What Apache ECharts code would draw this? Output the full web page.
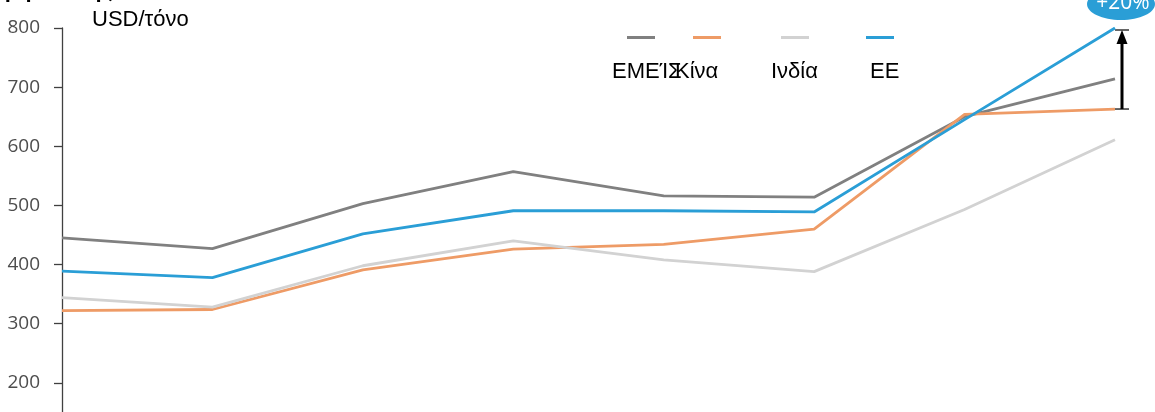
<!DOCTYPE html>
<html>
<head>
<meta charset="utf-8">
<script src="https://cdn.jsdelivr.net/npm/echarts@6/dist/echarts.min.js"></script>
<style>
html,body{margin:0;padding:0;background:#fff;}
#c{width:1155px;height:412px;}
</style>
</head>
<body>
<div id="c"></div>
<script>
// ---- data ----
var categories = ['2014', '2015', '2016', '2017', '2018', '2019', '2020', '2021'];
var seriesNames = ['ΕΜΕΊΣ', 'Κίνα', 'Ινδία', 'ΕΕ'];
var usValues    = [445, 427, 503, 557, 516, 514, 650, 714];
var chinaValues = [322, 324, 391, 426, 434, 460, 654, 663];
var indiaValues = [344, 328, 398, 440, 408, 388, 493, 611];
var euValues    = [389, 378, 452, 491, 491, 489, 645, 800];
var yTicks = [100, 200, 300, 400, 500, 600, 700, 800];
var titleText = 'Τιμή έλασης';
var unitText = 'USD/τόνο';
var changeLabel = '+20%';

var colors = ['#808080', '#ee9b66', '#d2d2d2', '#2a9ed6'];
var valuesList = [usValues, chinaValues, indiaValues, euValues];

var chart = echarts.init(document.getElementById('c'));

var legendLefts = [627, 693, 781, 866];
var legends = seriesNames.map(function (n, i) {
  return {
    data: [n], left: legendLefts[i], top: 36,
    icon: 'rect', itemWidth: 28, itemHeight: 3,
    formatter: function () { return ''; },
    textStyle: { fontSize: 12, padding: 0 },
    selectedMode: false, padding: 0, itemGap: 0
  };
});

var series = seriesNames.map(function (n, i) {
  return {
    name: n, type: 'line', data: valuesList[i],
    symbol: 'none', smooth: false,
    lineStyle: { color: colors[i], width: 2.8 },
    itemStyle: { color: colors[i] },
    z: i === 3 ? 5 : 3
  };
});

chart.setOption({
  animation: false,
  backgroundColor: '#fff',
  grid: { left: 62, top: 28, width: 1053, height: 414, outerBoundsMode: 'none', containLabel: false },
  legend: legends,
  xAxis: {
    type: 'category', data: categories, boundaryGap: false,
    axisLine: { lineStyle: { color: '#444' } },
    axisTick: { show: false },
    axisLabel: { show: false }
  },
  yAxis: {
    type: 'value', min: yTicks[0], max: yTicks[yTicks.length - 1], interval: 100,
    splitLine: { show: false },
    axisLine: { show: true, lineStyle: { color: '#404040', width: 1.3 } },
    axisTick: { show: true, length: 8, lineStyle: { color: '#404040', width: 1.3 } },
    axisLabel: { color: '#4d4d4d', fontSize: 19, fontFamily: 'Open Sans', margin: 22 }
  },
  series: series
});

// annotation positioned from data
var last = categories.length - 1;
var pTop = chart.convertToPixel({ gridIndex: 0 }, [last, euValues[last]]);
var pBot = chart.convertToPixel({ gridIndex: 0 }, [last, chinaValues[last]]);
var ax = pTop[0] + 7;
var legendTextLefts = [612, 675, 771, 870];
var graphics = [
  { type: 'text', style: { x: 113, y: 2, text: titleText, textAlign: 'right', textVerticalAlign: 'bottom', font: 'bold 22px "Liberation Sans", Arial', fill: '#000' } },
  { type: 'text', style: { x: 92, y: 9, text: unitText, font: '22px "Liberation Sans", Arial', fill: '#000' } },
  { type: 'line', shape: { x1: ax, y1: pBot[1], x2: ax, y2: pTop[1] + 10 }, style: { stroke: '#000', lineWidth: 3 } },
  { type: 'polygon', shape: { points: [[ax - 5.5, pTop[1] + 16], [ax + 5.5, pTop[1] + 16], [ax, pTop[1] + 2]] }, style: { fill: '#000' } },
  { type: 'line', shape: { x1: ax - 7, y1: pTop[1] + 2, x2: ax + 7, y2: pTop[1] + 2 }, style: { stroke: '#000', lineWidth: 1.2 } },
  { type: 'line', shape: { x1: ax - 7, y1: pBot[1], x2: ax + 7, y2: pBot[1] }, style: { stroke: '#000', lineWidth: 1.2 } },
  { type: 'ellipse', shape: { cx: ax - 1, cy: pTop[1] - 24, rx: 34, ry: 16 }, style: { fill: '#2a9ed6' } },
  { type: 'text', style: { x: ax + 1, y: pTop[1] - 25, text: changeLabel, textAlign: 'center', textVerticalAlign: 'middle', font: '21px "Open Sans"', fill: '#fff' } }
];
seriesNames.forEach(function (n, i) {
  graphics.push({ type: 'text', style: { x: legendTextLefts[i], y: 61, text: n, font: '22px "Liberation Sans", Arial', fill: '#000' } });
});
chart.setOption({ graphic: graphics });
</script>
</body>
</html>
